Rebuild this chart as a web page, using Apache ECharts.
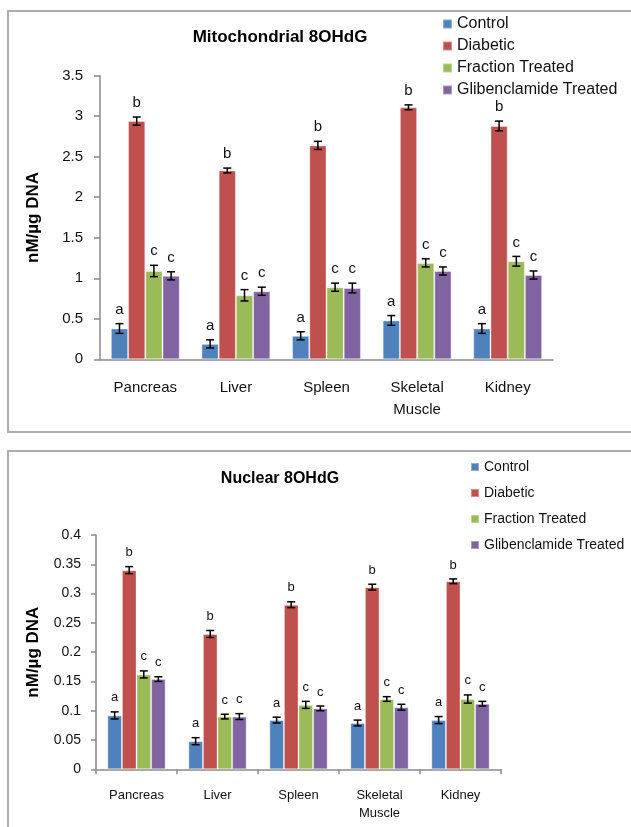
<!DOCTYPE html>
<html>
<head>
<meta charset="utf-8">
<script src="https://cdn.jsdelivr.net/npm/echarts@6/dist/echarts.min.js"></script>
<style>html,body{margin:0;padding:0;background:#fff;}#c{width:631px;height:827px;}</style>
</head>
<body>
<div id="c"></div>
<script>
const categories = ['Pancreas', 'Liver', 'Spleen', 'Skeletal\nMuscle', 'Kidney'];
const seriesNames = ['Control', 'Diabetic', 'Fraction Treated', 'Glibenclamide Treated'];
const letters = ['a', 'b', 'c', 'c'];
const colors = ['#4F81BD', '#C0504D', '#9BBB59', '#8064A2'];

// Mitochondrial 8OHdG (nM/µg DNA)
const mitoControl = [0.38, 0.19, 0.29, 0.48, 0.38];
const mitoDiabetic = [2.94, 2.33, 2.64, 3.11, 2.88];
const mitoFraction = [1.09, 0.79, 0.89, 1.19, 1.21];
const mitoGliben = [1.03, 0.84, 0.88, 1.09, 1.04];
const mitoErrControl = [0.06, 0.05, 0.05, 0.06, 0.06];
const mitoErrDiabetic = [0.05, 0.03, 0.05, 0.03, 0.06];
const mitoErrFraction = [0.07, 0.07, 0.05, 0.05, 0.06];
const mitoErrGliben = [0.05, 0.05, 0.06, 0.05, 0.05];
const mitoTicks = { min: 0, max: 3.5, interval: 0.5 };

// Nuclear 8OHdG (nM/µg DNA)
const nucControl = [0.092, 0.048, 0.084, 0.079, 0.084];
const nucDiabetic = [0.340, 0.231, 0.281, 0.311, 0.321];
const nucFraction = [0.162, 0.090, 0.110, 0.120, 0.120];
const nucGliben = [0.154, 0.090, 0.104, 0.106, 0.112];
const nucErrControl = [0.006, 0.006, 0.005, 0.005, 0.006];
const nucErrDiabetic = [0.006, 0.006, 0.005, 0.005, 0.004];
const nucErrFraction = [0.006, 0.004, 0.006, 0.004, 0.007];
const nucErrGliben = [0.004, 0.005, 0.004, 0.005, 0.004];
const nucTicks = { min: 0, max: 0.4, interval: 0.05 };

const FONT = 'Liberation Sans, Arial, sans-serif';
const mitoValues = [mitoControl, mitoDiabetic, mitoFraction, mitoGliben];
const mitoErrors = [mitoErrControl, mitoErrDiabetic, mitoErrFraction, mitoErrGliben];
const nucValues = [nucControl, nucDiabetic, nucFraction, nucGliben];
const nucErrors = [nucErrControl, nucErrDiabetic, nucErrFraction, nucErrGliben];

const gaps = [0.24, 0.28];
const letterFont = [15, 13];
const letterOffset = [14, 14];

function errData(values, errors) {
  const out = [];
  values.forEach((arr, si) => arr.forEach((v, ci) => out.push([ci, v, errors[si][ci], si])));
  return out;
}

function makeRender(k) {
  return function (params, api) {
    const ci = api.value(0), v = api.value(1), e = api.value(2), si = api.value(3);
    const band = api.size([1, 0])[0];
    const bw = band * (1 - gaps[k]) / 4;
    const c = api.coord([ci, v]);
    const x = c[0] + (si - 1.5) * bw;
    const yT = api.coord([ci, v + e])[1];
    const yB = api.coord([ci, v - e])[1];
    const cap = 4;
    const ls = { stroke: '#000', lineWidth: 1.5 };
    return {
      type: 'group',
      children: [
        { type: 'line', shape: { x1: x, y1: yT, x2: x, y2: yB }, style: ls },
        { type: 'line', shape: { x1: x - cap, y1: yT, x2: x + cap, y2: yT }, style: ls },
        { type: 'line', shape: { x1: x - cap, y1: yB, x2: x + cap, y2: yB }, style: ls },
        { type: 'text', x: x, y: yT - letterOffset[k],
          style: { text: letters[si], textAlign: 'center', textVerticalAlign: 'middle',
                   font: letterFont[k] + 'px ' + FONT, fill: '#111' } }
      ]
    };
  };
}

const series = [];
[mitoValues, nucValues].forEach((vals, k) => {
  vals.forEach((arr, si) => {
    series.push({
      type: 'bar', name: seriesNames[si], xAxisIndex: k, yAxisIndex: k,
      data: arr, barGap: '0%', barCategoryGap: (gaps[k] * 100) + '%',
      itemStyle: { color: colors[si], borderColor: 'rgba(255,255,255,0.35)', borderWidth: 1 },
      emphasis: { disabled: true }
    });
  });
});
series.push({ type: 'custom', xAxisIndex: 0, yAxisIndex: 0, renderItem: makeRender(0),
  data: errData(mitoValues, mitoErrors), encode: { x: 0, y: 1 }, z: 10, silent: true });
series.push({ type: 'custom', xAxisIndex: 1, yAxisIndex: 1, renderItem: makeRender(1),
  data: errData(nucValues, nucErrors), encode: { x: 0, y: 1 }, z: 10, silent: true });

const axisLine = { show: true, lineStyle: { color: '#8a8a8a', width: 1.5 } };

const option = {
  animation: false,
  textStyle: { fontFamily: FONT },
  graphic: [
    { type: 'rect', shape: { x: 8, y: 11, width: 640, height: 421 }, style: { fill: 'none', stroke: '#adadad', lineWidth: 2 } },
    { type: 'rect', shape: { x: 8, y: 451, width: 640, height: 400 }, style: { fill: 'none', stroke: '#adadad', lineWidth: 2 } }
  ],
  title: [
    { text: 'Mitochondrial 8OHdG', left: 280, top: 29, textAlign: 'center', padding: 0,
      textStyle: { fontSize: 17, fontWeight: 'bold', color: '#000', fontFamily: FONT } },
    { text: 'Nuclear 8OHdG', left: 280, top: 471, textAlign: 'center', padding: 0,
      textStyle: { fontSize: 16, fontWeight: 'bold', color: '#000', fontFamily: FONT } }
  ],
  legend: [
    { data: seriesNames, orient: 'vertical', left: 442, top: 16, itemWidth: 9, itemHeight: 9, itemGap: 6,
      icon: 'rect', selectedMode: false, padding: 0,
      textStyle: { fontSize: 16, lineHeight: 16, color: '#111', fontFamily: FONT } },
    { data: seriesNames, orient: 'vertical', left: 470, top: 460, itemWidth: 8, itemHeight: 8, itemGap: 12,
      icon: 'rect', selectedMode: false, padding: 0,
      textStyle: { fontSize: 14, lineHeight: 14, color: '#111', fontFamily: FONT } }
  ],
  grid: [
    { left: 100, top: 75.7, width: 453, height: 283.6, containLabel: false },
    { left: 96, top: 535, width: 405, height: 234.3, containLabel: false }
  ],
  xAxis: [
    { type: 'category', gridIndex: 0, data: categories, axisLine: axisLine, axisTick: { show: false },
      axisLabel: { fontSize: 15, lineHeight: 22, color: '#111', margin: 18, interval: 0 } },
    { type: 'category', gridIndex: 1, data: categories, axisLine: axisLine,
      axisTick: { show: true, length: 5, lineStyle: { color: '#8a8a8a', width: 1.5 } },
      axisLabel: { fontSize: 13, lineHeight: 18, color: '#111', margin: 17, interval: 0 } }
  ],
  yAxis: [
    { type: 'value', gridIndex: 0, min: mitoTicks.min, max: mitoTicks.max, interval: mitoTicks.interval,
      splitLine: { show: false }, axisLine: axisLine,
      axisTick: { show: true, length: 6, lineStyle: { color: '#8a8a8a', width: 1.5 } },
      axisLabel: { fontSize: 15, color: '#111', margin: 17 },
      name: 'nM/µg DNA', nameLocation: 'middle', nameRotate: 90, nameGap: 58,
      nameTextStyle: { fontSize: 17, fontWeight: 'bold', color: '#000' } },
    { type: 'value', gridIndex: 1, min: nucTicks.min, max: nucTicks.max, interval: nucTicks.interval,
      splitLine: { show: false }, axisLine: axisLine,
      axisTick: { show: true, length: 5, lineStyle: { color: '#8a8a8a', width: 1.5 } },
      axisLabel: { fontSize: 14, color: '#111', margin: 15 },
      name: 'nM/µg DNA', nameLocation: 'middle', nameRotate: 90, nameGap: 54,
      nameTextStyle: { fontSize: 17, fontWeight: 'bold', color: '#000' } }
  ],
  series: series
};

const chart = echarts.init(document.getElementById('c'), null, { renderer: 'canvas' });
chart.setOption(option);
</script>
</body>
</html>
